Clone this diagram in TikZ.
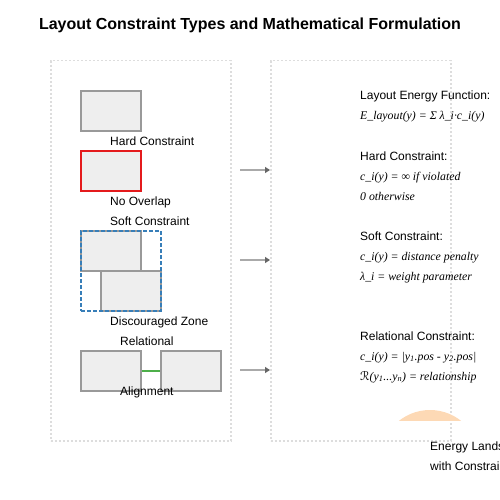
\documentclass[tikz,border=0pt]{standalone}
\usepackage{fontspec}
\setmainfont{Liberation Sans}
\newfontfamily\fserif{Liberation Serif}
\newfontfamily\fdv{DejaVu Sans}
\usetikzlibrary{arrows.meta}
\definecolor{panelgray}{HTML}{DDDDDD}
\definecolor{boxgray}{HTML}{999999}
\definecolor{boxfill}{HTML}{EEEEEE}
\definecolor{hardred}{HTML}{E41A1C}
\definecolor{softblue}{HTML}{377EB8}
\definecolor{relgreen}{HTML}{4DAF4A}
\definecolor{arrgray}{HTML}{AAAAAA}
\definecolor{headgray}{HTML}{666666}
\definecolor{peach}{HTML}{FDD9B5}
\tikzset{
  panel/.style={draw=panelgray, dash pattern=on 2pt off 2pt, line width=1.5pt, inner sep=0pt, minimum width=180pt, minimum height=380pt, anchor=north west},
  layoutbox/.style={draw=boxgray, fill=boxfill, line width=2pt, inner sep=0pt, minimum width=60pt, minimum height=40pt, anchor=north west},
  hardbox/.style={layoutbox, draw=hardred},
  zonebox/.style={draw=softblue, dash pattern=on 4pt off 2pt, line width=2pt, inner sep=0pt, minimum width=80pt, minimum height=80pt, anchor=north west},
  lbl/.style={anchor=base west, inner sep=0pt, font=\fontsize{12}{14}\selectfont},
  frm/.style={anchor=base west, inner sep=0pt, font=\fontsize{11.8}{14}\selectfont\fserif\itshape},
  flow/.style={draw=arrgray, line width=2pt, -{Triangle[length=5pt,width=6pt,color=headgray]}},
}
\begin{document}
\begin{tikzpicture}[x=1pt,y=-1pt]
\useasboundingbox (0,0) rectangle (500,500);
\clip (0,0) rectangle (500,500);
% title
\node[anchor=base, inner sep=0pt, font=\fontsize{16}{19}\selectfont\bfseries] (title) at (250,30) {Layout Constraint Types and Mathematical Formulation};
% panels
\node[panel] (lp) at (50,60) {};
\node[panel] (rp) at (270,60) {};
% hard constraint
\node[layoutbox] (h1) at (80,90) {};
\node[lbl] (hl) at (110,145) {Hard Constraint};
\node[hardbox] (h2) at (80,150) {};
\node[lbl] (nol) at (110,205) {No Overlap};
% soft constraint
\node[lbl] (sl) at (110,225) {Soft Constraint};
\node[layoutbox] (s1) at (80,230) {};
\node[layoutbox] (s2) at (100,270) {};
\node[zonebox] (sz) at (80,230) {};
\node[lbl] (dz) at (110,325) {Discouraged Zone};
% relational
\node[lbl] (rl) at (120,345) {Relational};
\node[layoutbox] (r1) at (80,350) {};
\node[layoutbox] (r2) at (160,350) {};
\draw[relgreen, line width=2pt] (r1.east) -- (r2.west);
\node[lbl] (al) at (120,395) {Alignment};
% arrows
\coordinate (a1) at (240,170);
\coordinate (a2) at (240,260);
\coordinate (a3) at (240,370);
\draw[flow] (a1) -- (a1 -| rp.west);
\draw[flow] (a2) -- (a2 -| rp.west);
\draw[flow] (a3) -- (a3 -| rp.west);
% right texts
\node[lbl] (t1) at (360,100) {Layout Energy Function:};
\node[frm] (f1) at (360,120) {E\_layout(y) = Σ λ\_i·c\_i(y)};
\node[lbl] (t2) at (360,160) {Hard Constraint:};
\node[frm] (f2) at (360,180) {c\_i(y) = ∞ if violated};
\node[frm] (f3) at (360,200) {0 otherwise};
\node[lbl] (t3) at (360,240) {Soft Constraint:};
\node[frm] (f4) at (360,260) {c\_i(y) = distance penalty};
\node[frm] (f5) at (360,280) {λ\_i = weight parameter};
\node[lbl] (t4) at (360,340) {Relational Constraint:};
\node[frm] (f6) at (360,360) {c\_i(y) = |y\textsubscript{1}.pos - y\textsubscript{2}.pos|};
\node[frm] (f7) at (360,380) {{\fdv ℛ}(y\textsubscript{1}...y\textsubscript{n}) = relationship};
% energy landscape
\begin{scope}
\clip (380,380) rectangle (480,420);
\fill[peach] (430,460) circle (50);
\end{scope}
\node[lbl] (el1) at (430,450) {Energy Landscape};
\node[lbl] (el2) at (430,470) {with Constraints};
\end{tikzpicture}
\end{document}
